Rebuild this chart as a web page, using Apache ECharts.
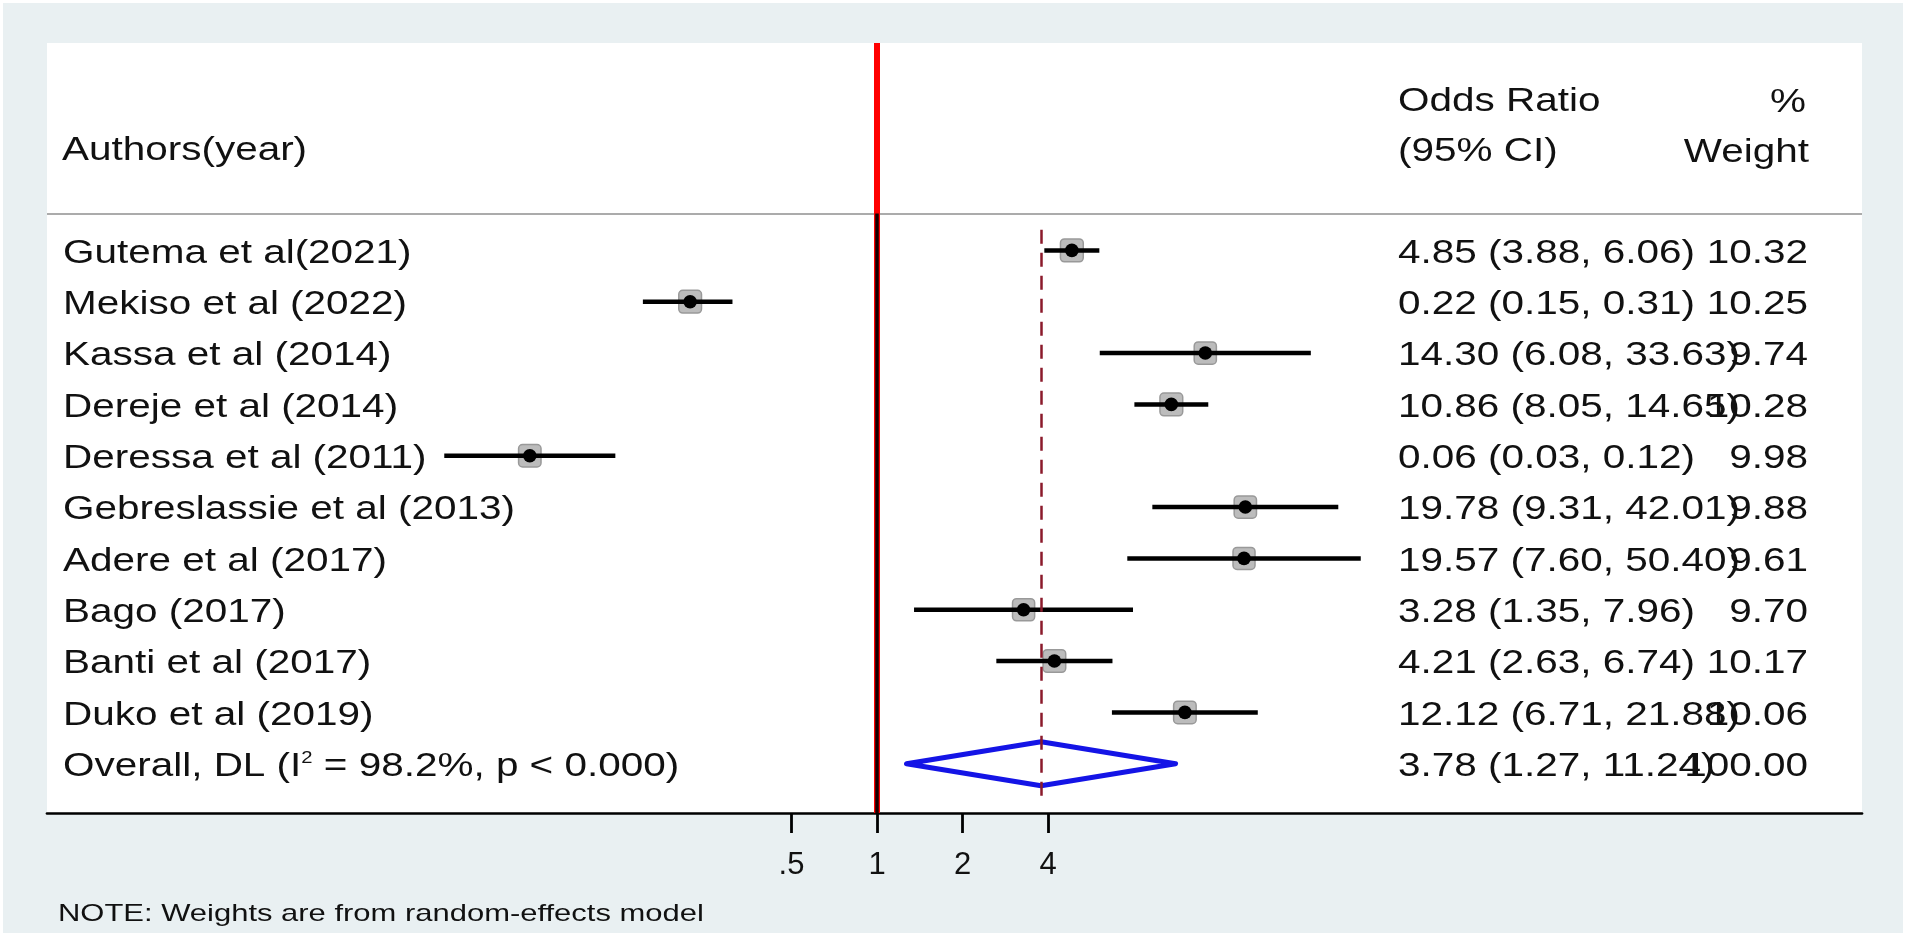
<!DOCTYPE html>
<html>
<head>
<meta charset="utf-8">
<script src="https://cdn.jsdelivr.net/npm/echarts@6/dist/echarts.min.js"></script>
<style>
html,body{margin:0;padding:0;background:#ffffff;}
#chart{width:1907px;height:941px;}
</style>
</head>
<body>
<div id="chart"></div>
<script>
// ---------------- data ----------------
const authors = [
  'Gutema et al(2021)',
  'Mekiso et al (2022)',
  'Kassa et al (2014)',
  'Dereje et al (2014)',
  'Deressa et al (2011)',
  'Gebreslassie et al (2013)',
  'Adere et al (2017)',
  'Bago (2017)',
  'Banti et al (2017)',
  'Duko et al (2019)'
];
const oddsRatio = [4.85, 0.22, 14.30, 10.86, 0.06, 19.78, 19.57, 3.28, 4.21, 12.12];
const ciLow     = [3.88, 0.15, 6.08, 8.05, 0.03, 9.31, 7.60, 1.35, 2.63, 6.71];
const ciHigh    = [6.06, 0.31, 33.63, 14.65, 0.12, 42.01, 50.40, 7.96, 6.74, 21.88];
const weights   = [10.32, 10.25, 9.74, 10.28, 9.98, 9.88, 9.61, 9.70, 10.17, 10.06];

const overallLabelRich = 'Overall, DL (I{sup|2} = 98.2%, p < 0.000)';
const overallOR = [3.78];
const overallLow = [1.27];
const overallHigh = [11.24];
const overallWeight = [100.00];

const tickValues = [0.5, 1, 2, 4];
const tickLabels = ['.5', '1', '2', '4'];

const headerLeft = 'Authors(year)';
const headerOR = ['Odds Ratio', '(95% CI)'];
const headerW = ['%', 'Weight'];
const noteText = 'NOTE: Weights are from random-effects model';

// ---------------- layout / style constants ----------------
const FONT = '"Liberation Sans", Arial, Helvetica, sans-serif';
const SX = 1.19;              // horizontal stretch of the original text
const FS = 34;                // main font size
const TXT = '#111111';
const TY = 3;                 // vertical nudge of text
const PLOT_L = 47, PLOT_R = 1862, PLOT_T = 43, PLOT_B = 813;
const X0 = 877, KPX = 85.54;  // pixel of OR=1 and pixels per doubling
const xMin = Math.pow(2, (PLOT_L - X0) / KPX);
const xMax = Math.pow(2, (PLOT_R - X0) / KPX);
const yMin = -4.04, yMax = 10.96;
const SEP_ROW = -0.72;
const LABEL_X = 63, OR_X = 1398, W_X = 1808;
const BOX = 7.1;

const chart = echarts.init(document.getElementById('chart'), null, {renderer: 'canvas'});

function txt(x, y, text, align) {
  return {
    type: 'text', x: x, y: y + TY, scaleX: SX,
    style: {text: text, fill: TXT, font: FS + 'px ' + FONT, align: align, verticalAlign: 'middle'}
  };
}

const studyData = authors.map((a, i) => [i, oddsRatio[i], ciLow[i], ciHigh[i], weights[i]]);
const overallData = overallOR.map((v, i) => [authors.length, v, overallLow[i], overallHigh[i], overallWeight[i]]);

const headerGraphics = [
  txt(62, 148, headerLeft, 'left'),
  txt(OR_X, 99, headerOR[0], 'left'),
  txt(OR_X, 149, headerOR[1], 'left'),
  txt(1806, 100, headerW[0], 'right'),
  txt(1809, 150, headerW[1], 'right')
].map(g => Object.assign(g, {z: 10}));

const option = {
  backgroundColor: '#ffffff',
  animation: false,
  grid: {
    left: PLOT_L, right: 1907 - PLOT_R, top: PLOT_T, bottom: 941 - PLOT_B,
    show: true, backgroundColor: '#ffffff', borderWidth: 0
  },
  xAxis: {
    type: 'log', logBase: 2, min: xMin, max: xMax,
    axisLine: {show: true, onZero: false, lineStyle: {color: '#000000', width: 2.7}},
    axisTick: {show: true, customValues: tickValues, length: 20, lineStyle: {color: '#000000', width: 2.8}},
    axisLabel: {
      show: true, customValues: tickValues, margin: 37, fontSize: 31, color: TXT, fontFamily: FONT,
      formatter: function (v) {
        const idx = tickValues.findIndex(t => Math.abs(Math.log2(t) - Math.log2(v)) < 1e-6);
        return idx >= 0 ? tickLabels[idx] : '';
      }
    },
    splitLine: {show: false},
    minorTick: {show: false}
  },
  yAxis: {type: 'value', inverse: true, min: yMin, max: yMax, show: false},
  graphic: [
    {type: 'rect', z: -10, silent: true, shape: {x: 3, y: 3, width: 1900, height: 930}, style: {fill: '#e9f0f2'}},
    {type: 'rect', z: -9, silent: true, shape: {x: PLOT_L, y: PLOT_T, width: PLOT_R - PLOT_L, height: PLOT_B - PLOT_T}, style: {fill: '#ffffff'}},
    {type: 'text', x: 58, y: 914, scaleX: 1.29, z: 10, style: {text: noteText, fill: TXT, font: '24px ' + FONT, align: 'left', verticalAlign: 'middle'}}
  ].concat(headerGraphics),
  series: [
    {
      type: 'scatter', data: [], silent: true,
      markLine: {
        silent: true, symbol: 'none', animation: false,
        label: {show: false},
        data: [
          [{coord: [xMin, SEP_ROW], lineStyle: {color: '#ababab', width: 2, type: 'solid'}},
           {coord: [xMax, SEP_ROW]}],
          [{coord: [1, yMin], lineStyle: {color: '#ff0000', width: 6, type: 'solid'}},
           {coord: [1, yMax]}],
          [{coord: [1, SEP_ROW], lineStyle: {color: '#140000', width: 3.5, type: 'solid'}},
           {coord: [1, yMax]}],
          [{coord: [overallOR[0], -0.4], lineStyle: {color: '#8b1a2b', width: 2.5, type: [14, 9]}},
           {coord: [overallOR[0], 10.66]}]
        ]
      }
    },
    {
      type: 'custom', coordinateSystem: 'cartesian2d', clip: false,
      data: studyData,
      encode: {x: [1, 2, 3], y: 0},
      renderItem: function (params, api) {
        const row = api.value(0), est = api.value(1), l = api.value(2), h = api.value(3), w = api.value(4);
        const pL = api.coord([l, row]), pH = api.coord([h, row]), pE = api.coord([est, row]);
        const s = BOX * Math.sqrt(w);
        const i = params.dataIndex;
        const orText = est.toFixed(2) + ' (' + l.toFixed(2) + ', ' + h.toFixed(2) + ')';
        return {
          type: 'group',
          children: [
            {type: 'rect', shape: {x: pE[0] - s / 2, y: pE[1] - s / 2, width: s, height: s, r: 4},
             style: {fill: '#bcbcbc', stroke: '#999999', lineWidth: 1.5}},
            {type: 'line', shape: {x1: pL[0], y1: pL[1], x2: pH[0], y2: pH[1]},
             style: {stroke: '#000000', lineWidth: 4.5}},
            {type: 'circle', shape: {cx: pE[0], cy: pE[1], r: 6.8}, style: {fill: '#000000'}},
            txt(LABEL_X, pE[1], authors[i], 'left'),
            txt(OR_X, pE[1], orText, 'left'),
            txt(W_X, pE[1], w.toFixed(2), 'right')
          ]
        };
      }
    },
    {
      type: 'custom', coordinateSystem: 'cartesian2d', clip: false,
      data: overallData,
      encode: {x: [1, 2, 3], y: 0},
      renderItem: function (params, api) {
        const row = api.value(0), est = api.value(1), l = api.value(2), h = api.value(3), w = api.value(4);
        const pL = api.coord([l, row]), pH = api.coord([h, row]), pE = api.coord([est, row]);
        const hh = 22;
        const orText = est.toFixed(2) + ' (' + l.toFixed(2) + ', ' + h.toFixed(2) + ')';
        return {
          type: 'group',
          children: [
            {type: 'polygon', shape: {points: [[pL[0], pL[1]], [pE[0], pE[1] - hh], [pH[0], pH[1]], [pE[0], pE[1] + hh]]},
             style: {fill: 'none', stroke: '#1414e6', lineWidth: 5, lineJoin: 'round'}},
            {type: 'text', x: LABEL_X, y: pE[1] + TY, scaleX: SX,
             style: {text: overallLabelRich, fill: TXT, font: FS + 'px ' + FONT, align: 'left', verticalAlign: 'middle',
                     rich: {sup: {fontSize: 17, fontFamily: FONT, fill: TXT, verticalAlign: 'top'}}}},
            txt(OR_X, pE[1], orText, 'left'),
            txt(W_X, pE[1], w.toFixed(2), 'right')
          ]
        };
      }
    }
  ]
};
chart.setOption(option);
</script>
</body>
</html>
